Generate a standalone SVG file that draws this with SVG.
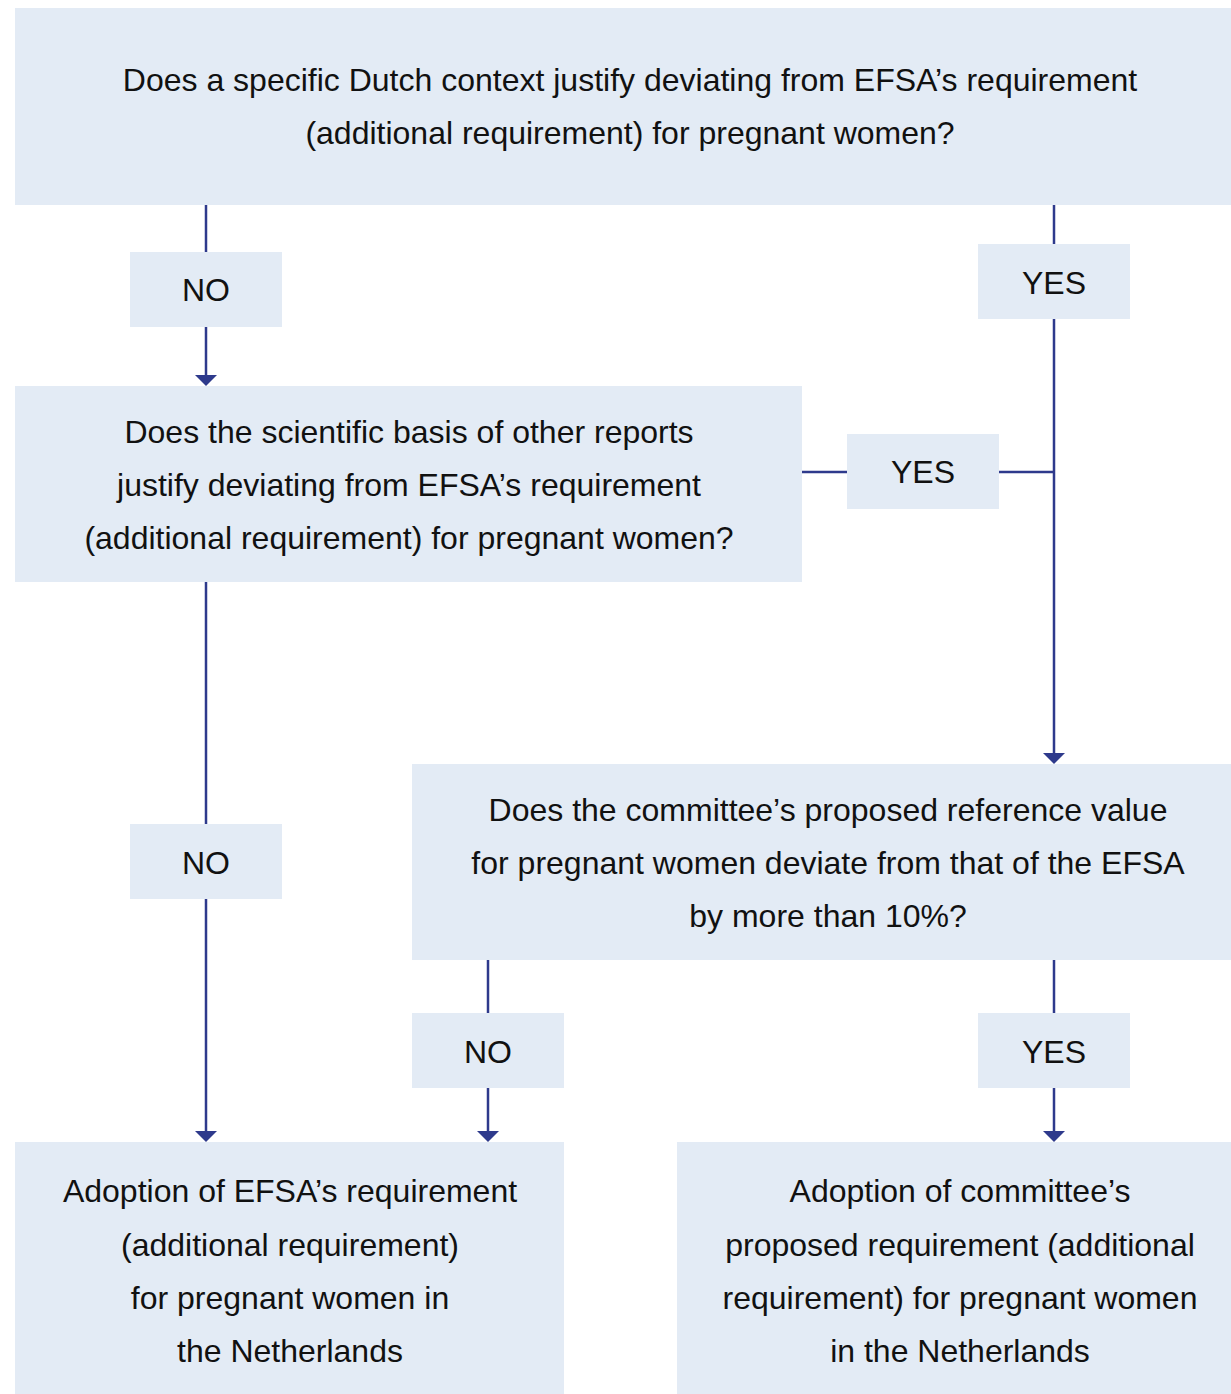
<svg xmlns="http://www.w3.org/2000/svg" width="1231" height="1394" viewBox="0 0 1231 1394">
<style>
.box{fill:#E3EBF5;}
.t{font-family:"Liberation Sans",Arial,sans-serif;font-size:32px;fill:#111;text-anchor:middle;}
.c{stroke:#2E3A8C;stroke-width:2.5;fill:none;}
.ah{fill:#2E3A8C;}
</style>
<rect width="1231" height="1394" fill="#fff"/>
<g id="connectors">
<line class="c" x1="206" y1="205" x2="206" y2="252"/>
<line class="c" x1="206" y1="327" x2="206" y2="375"/>
<polygon class="ah" points="195,375 217,375 206,386"/>
<line class="c" x1="1054" y1="205" x2="1054" y2="244"/>
<line class="c" x1="1054" y1="319" x2="1054" y2="753"/>
<polygon class="ah" points="1043,753 1065,753 1054,764"/>
<line class="c" x1="802" y1="472" x2="847" y2="472"/>
<line class="c" x1="999" y1="472" x2="1054" y2="472"/>
<line class="c" x1="206" y1="582" x2="206" y2="824"/>
<line class="c" x1="206" y1="899" x2="206" y2="1131"/>
<polygon class="ah" points="195,1131 217,1131 206,1142"/>
<line class="c" x1="488" y1="960" x2="488" y2="1013"/>
<line class="c" x1="488" y1="1088" x2="488" y2="1131"/>
<polygon class="ah" points="477,1131 499,1131 488,1142"/>
<line class="c" x1="1054" y1="960" x2="1054" y2="1013"/>
<line class="c" x1="1054" y1="1088" x2="1054" y2="1131"/>
<polygon class="ah" points="1043,1131 1065,1131 1054,1142"/>
</g>
<g id="q1">
<rect class="box" x="15" y="8" width="1230" height="197"/>
<text class="t" x="630" y="91">Does a specific Dutch context justify deviating from EFSA’s requirement</text>
<text class="t" x="630" y="144">(additional requirement) for pregnant women?</text>
</g>
<g id="no1">
<rect class="box" x="130" y="252" width="152" height="75"/>
<text class="t" x="206" y="301">NO</text>
</g>
<g id="yes1">
<rect class="box" x="978" y="244" width="152" height="75"/>
<text class="t" x="1054" y="294">YES</text>
</g>
<g id="q2">
<rect class="box" x="15" y="386" width="787" height="196"/>
<text class="t" x="409" y="443">Does the scientific basis of other reports</text>
<text class="t" x="409" y="496">justify deviating from EFSA’s requirement</text>
<text class="t" x="409" y="549">(additional requirement) for pregnant women?</text>
</g>
<g id="yes2">
<rect class="box" x="847" y="434" width="152" height="75"/>
<text class="t" x="923" y="483">YES</text>
</g>
<g id="no2">
<rect class="box" x="130" y="824" width="152" height="75"/>
<text class="t" x="206" y="874">NO</text>
</g>
<g id="q3">
<rect class="box" x="412" y="764" width="833" height="196"/>
<text class="t" x="828" y="821">Does the committee’s proposed reference value</text>
<text class="t" x="828" y="874">for pregnant women deviate from that of the EFSA</text>
<text class="t" x="828" y="927">by more than 10%?</text>
</g>
<g id="no3">
<rect class="box" x="412" y="1013" width="152" height="75"/>
<text class="t" x="488" y="1063">NO</text>
</g>
<g id="yes3">
<rect class="box" x="978" y="1013" width="152" height="75"/>
<text class="t" x="1054" y="1063">YES</text>
</g>
<g id="r1">
<rect class="box" x="15" y="1142" width="549" height="252"/>
<text class="t" x="290" y="1202">Adoption of EFSA’s requirement</text>
<text class="t" x="290" y="1256">(additional requirement)</text>
<text class="t" x="290" y="1309">for pregnant women in</text>
<text class="t" x="290" y="1362">the Netherlands</text>
</g>
<g id="r2">
<rect class="box" x="677" y="1142" width="568" height="252"/>
<text class="t" x="960" y="1202">Adoption of committee’s</text>
<text class="t" x="960" y="1256">proposed requirement (additional</text>
<text class="t" x="960" y="1309">requirement) for pregnant women</text>
<text class="t" x="960" y="1362">in the Netherlands</text>
</g>
</svg>
